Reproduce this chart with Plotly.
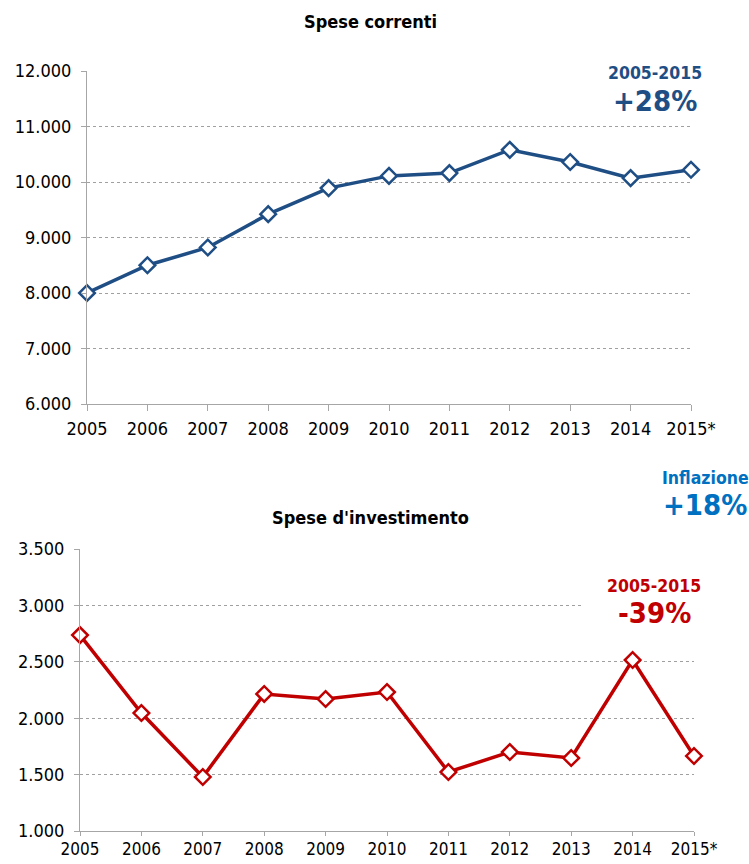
import plotly.graph_objects as go

years = ["2005", "2006", "2007", "2008", "2009", "2010", "2011", "2012", "2013", "2014", "2015*"]
spese_correnti = [8000, 8500, 8820, 9420, 9890, 10110, 10160, 10580, 10360, 10070, 10220]
spese_investimento = [2737, 2046, 1479, 2215, 2170, 2232, 1523, 1700, 1647, 2516, 1665]

W, H = 749, 864
FONT = "DejaVu Sans Condensed"
BLUE = "#1F4E85"
RED = "#C00000"
INFL = "#0070C0"
AXIS = "#A6A6A6"

def px_x(v):
    return v / W

def px_y(v):
    return 1 - v / H

fig = go.Figure()
fig.add_trace(go.Scatter(
    x=years, y=spese_correnti, mode="lines+markers", xaxis="x", yaxis="y", cliponaxis=False,
    line=dict(color=BLUE, width=3.5),
    marker=dict(symbol="diamond", size=12, color="white", line=dict(color=BLUE, width=2.5)),
    showlegend=False))
fig.add_trace(go.Scatter(
    x=years, y=spese_investimento, mode="lines+markers", xaxis="x2", yaxis="y2", cliponaxis=False,
    line=dict(color=RED, width=3.5),
    marker=dict(symbol="diamond", size=12, color="white", line=dict(color=RED, width=2.5)),
    showlegend=False))

xcommon = dict(type="category", range=[0, 10], showline=True, linecolor=AXIS, linewidth=1,
               ticks="outside", ticklen=6, tickcolor=AXIS, showgrid=False, automargin=False,
               tickfont=dict(family=FONT, size=18, color="black"), fixedrange=True,
               ticklabelstandoff=2)
ycommon = dict(showline=True, linecolor=AXIS, linewidth=1, ticks="outside", ticklen=5,
               tickcolor=AXIS, showgrid=True, gridcolor="#A0A0A0", griddash="dot", gridwidth=1,
               tickformat=",d", tickfont=dict(family=FONT, size=18, color="black"),
               zeroline=False, ticklabelstandoff=6, automargin=False)

fig.update_layout(
    width=W, height=H, margin=dict(l=0, r=0, t=0, b=0, autoexpand=False),
    paper_bgcolor="white", plot_bgcolor="white", separators=",.",
    xaxis=dict(xcommon, domain=[px_x(87), px_x(691)], anchor="y"),
    yaxis=dict(ycommon, domain=[px_y(404), px_y(71)], range=[6000, 12000], dtick=1000, anchor="x"),
    xaxis2=dict(xcommon, domain=[px_x(80), px_x(694)], anchor="y2", ticklen=4,
                ticklabelstandoff=-1, tickfont=dict(family=FONT, size=17, color="black")),
    yaxis2=dict(ycommon, domain=[px_y(831), px_y(549)], range=[1000, 3500], dtick=500, anchor="x2"),
    shapes=[
        dict(type="rect", xref="paper", yref="paper", x0=px_x(585), x1=1, y0=px_y(115), y1=px_y(60),
             fillcolor="white", line=dict(width=0), layer="above"),
        dict(type="rect", xref="paper", yref="paper", x0=px_x(583), x1=1, y0=px_y(632), y1=px_y(575),
             fillcolor="white", line=dict(width=0), layer="above"),
    ],
)

def ann(text, x, y, size, color, xanchor="center"):
    fig.add_annotation(text=text, x=px_x(x), y=px_y(y), xref="paper", yref="paper",
                       showarrow=False, xanchor=xanchor, yanchor="middle",
                       font=dict(family=FONT, size=size, color=color))

ann("<b>Spese correnti</b>", 370, 22, 18, "black")
ann("<b>Spese d'investimento</b>", 370, 517, 18, "black")
ann("<b>2005-2015</b>", 655, 73, 17.5, BLUE)
ann("<b>+28%</b>", 655, 101, 29, BLUE)
ann("<b>Inflazione</b>", 705, 478, 17.5, INFL)
ann("<b>+18%</b>", 705, 505, 29, INFL)
ann("<b>2005-2015</b>", 654, 586, 17.5, RED)
ann("<b>-39%</b>", 654, 613, 29, RED)

fig.write_html("out.html", config={"displayModeBar": False},
               post_script="document.body.style.margin='0';document.body.style.overflow='hidden';")
